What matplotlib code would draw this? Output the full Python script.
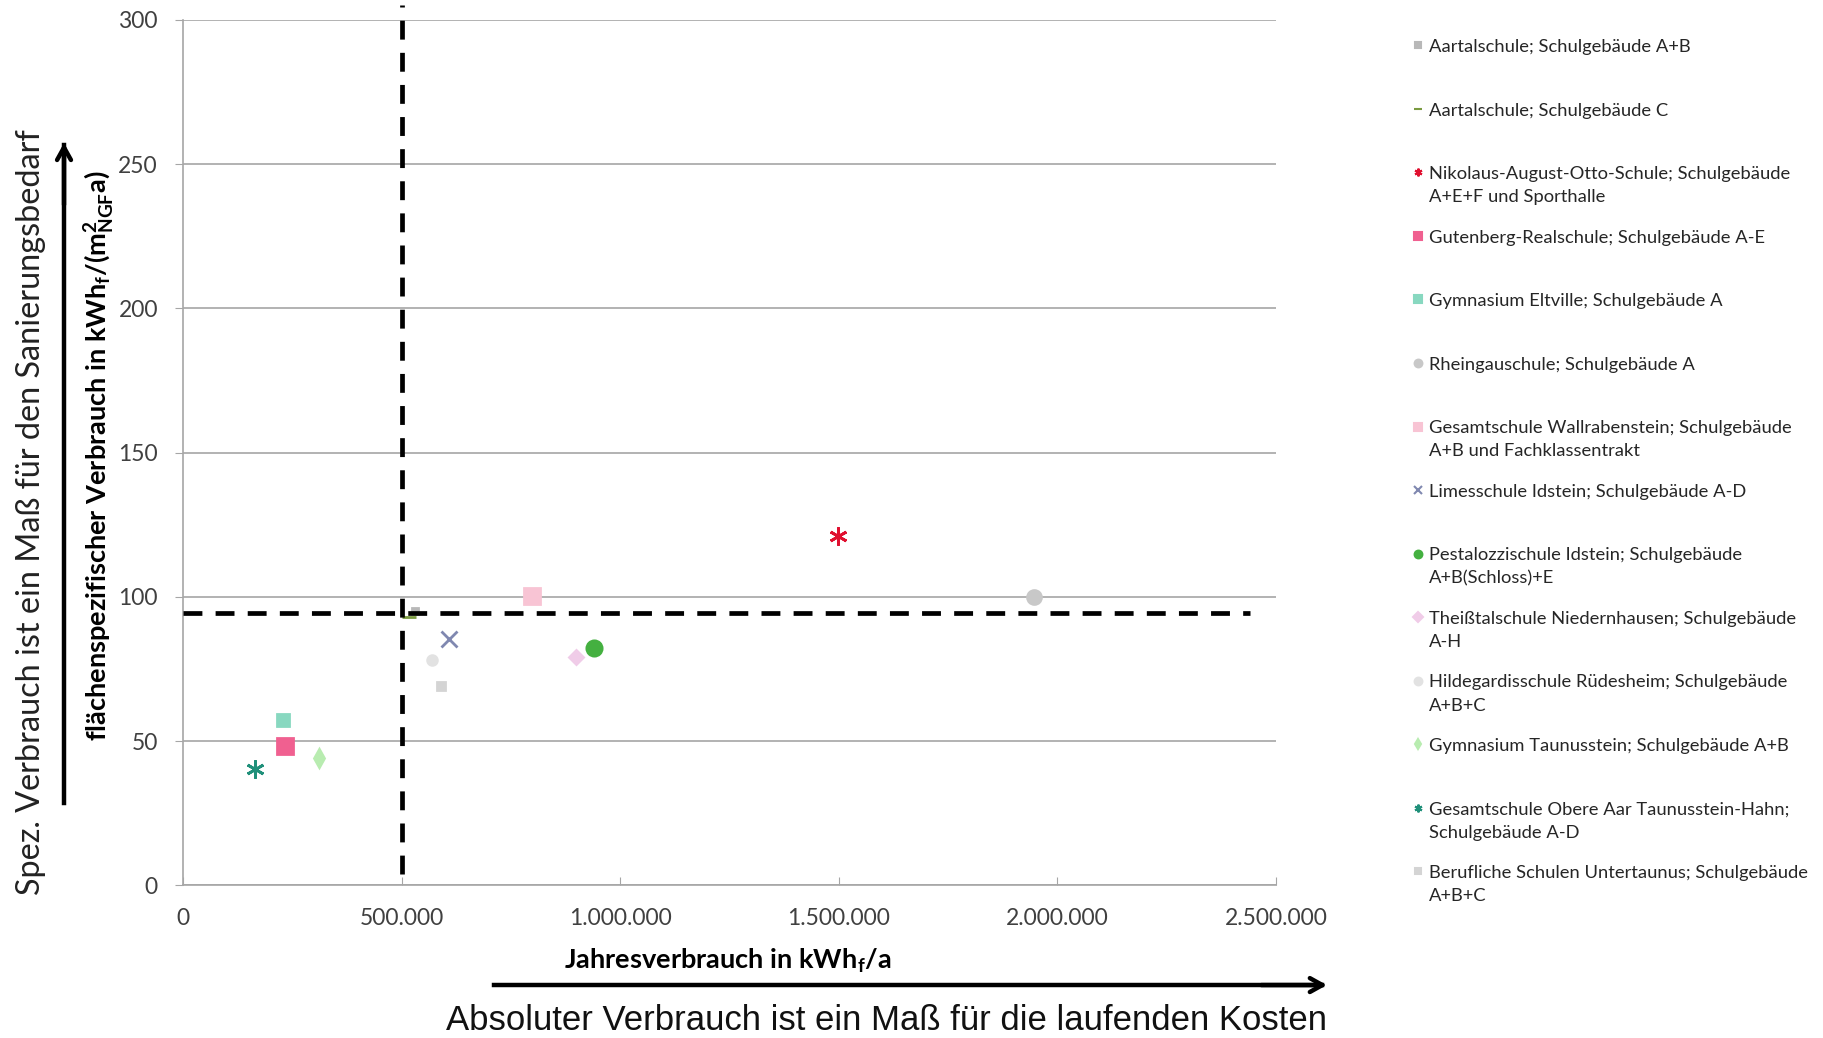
import matplotlib.pyplot as plt
from matplotlib.lines import Line2D
from matplotlib.ticker import FuncFormatter

plt.rcParams['font.family'] = ['Lato', 'DejaVu Sans']
plt.rcParams['mathtext.fontset'] = 'custom'
plt.rcParams['mathtext.rm'] = 'Lato'
plt.rcParams['mathtext.bf'] = 'Lato:bold'
plt.rcParams['mathtext.it'] = 'Lato:italic'

# Schulen und Verbrauchswerte
schulen = [
    'Aartalschule; Schulgebäude A+B',
    'Aartalschule; Schulgebäude C',
    'Nikolaus-August-Otto-Schule; Schulgebäude\nA+E+F und Sporthalle',
    'Gutenberg-Realschule; Schulgebäude A-E',
    'Gymnasium Eltville; Schulgebäude A',
    'Rheingauschule; Schulgebäude A',
    'Gesamtschule Wallrabenstein; Schulgebäude\nA+B und Fachklassentrakt',
    'Limesschule Idstein; Schulgebäude A-D',
    'Pestalozzischule Idstein; Schulgebäude\nA+B(Schloss)+E',
    'Theißtalschule Niedernhausen; Schulgebäude\nA-H',
    'Hildegardisschule Rüdesheim; Schulgebäude\nA+B+C',
    'Gymnasium Taunusstein; Schulgebäude A+B',
    'Gesamtschule Obere Aar Taunusstein-Hahn;\nSchulgebäude A-D',
    'Berufliche Schulen Untertaunus; Schulgebäude\nA+B+C',
]
jahresverbrauch = [530000, 516000, 1497000, 233000, 228000, 1947000, 799000,
                   608000, 939000, 900000, 569000, 312000, 164000, 590000]
spez_verbrauch = [95, 93, 121, 48.4, 57.3, 100, 100.4,
                  85.5, 82.3, 79, 78, 44, 40.3, 69]

# Grenzwerte (gestrichelte Linien)
grenze_x = 500000
grenze_y = 94.4

x_ticks = [0, 500000, 1000000, 1500000, 2000000, 2500000]
y_ticks = [0, 50, 100, 150, 200, 250, 300]

farben = ['#b8b8b8', '#7a9a40', '#e01030', '#f06090', '#88d8c0', '#c8c8c8',
          '#f8c4d4', '#8088b0', '#44b040', '#f0cce8', '#e2e2e2', '#b8ecb0',
          '#20907a', '#d4d4d4']
marker = ['s', '_', (6, 2, 0), 's', 's', 'o', 's', 'x', 'o', 'D', 'o', 'd',
          (6, 2, 0), 's']
groessen = [5, 10, 13, 11, 8, 10, 11, 11, 11, 7, 7, 9, 13, 6]

fig = plt.figure(figsize=(18.24, 10.38), dpi=100)
ax = fig.add_axes([0.1003, 0.147, 0.5993, 0.834])

ax.set_xlim(0, 2500000)
ax.set_ylim(0, 300)
ax.set_xticks(x_ticks)
ax.set_yticks(y_ticks)
ax.xaxis.set_major_formatter(FuncFormatter(lambda v, p: f'{int(v):,}'.replace(',', '.')))
ax.grid(axis='y', color='#a6a6a6', lw=1.2)
ax.set_axisbelow(True)
for s in ['top', 'right']:
    ax.spines[s].set_visible(False)
for s in ['left', 'bottom']:
    ax.spines[s].set_color('#a6a6a6')
    ax.spines[s].set_linewidth(1.2)
ax.tick_params(axis='x', direction='in', length=6, color='#a6a6a6', pad=16,
               labelsize=16.5, labelcolor='#404040')
ax.tick_params(axis='y', direction='out', length=6, color='#a6a6a6', pad=12,
               labelsize=16.5, labelcolor='#404040')

# Messpunkte
for i in range(len(schulen)):
    ax.plot(jahresverbrauch[i], spez_verbrauch[i], ls='none', marker=marker[i],
            color=farben[i], ms=groessen[i], mew=2, zorder=3)

# Grenzlinien
ax.plot([grenze_x, grenze_x], [4, 305], color='black', lw=3.4,
        ls=(0, (4, 2.8)), clip_on=False, zorder=4)
ax.plot([0, 2440000], [grenze_y, grenze_y], color='black', lw=3.4,
        ls=(0, (4, 2.8)), zorder=4)

# Achsentitel
fig.text(0.399, 0.074, r'Jahresverbrauch in kWh$_\mathbf{f}$/a', fontsize=19.5,
         fontweight='bold', ha='center', va='center')
fig.text(0.0543, 0.561,
         r'flächenspezifischer Verbrauch in kWh$_\mathbf{f}$/(m$^\mathbf{2}_\mathbf{NGF}$a)',
         fontsize=19.5, fontweight='bold', rotation=90, ha='center', va='center')

# Pfeile mit Erläuterung
fig.text(0.017, 0.507, 'Spez. Verbrauch ist ein Maß für den Sanierungsbedarf',
         fontsize=23.3, rotation=90, ha='center', va='center', color='#222222')
fig.add_artist(plt.Line2D([0.0351, 0.0351], [0.2264, 0.86], color='black', lw=3.2))
ax.annotate('', xy=(0.0351, 0.865), xytext=(0.0351, 0.80), xycoords='figure fraction',
            arrowprops=dict(arrowstyle='->,head_length=0.9,head_width=0.5',
                            color='black', lw=3.2))
fig.text(0.486, 0.017, 'Absoluter Verbrauch ist ein Maß für die laufenden Kosten',
         fontsize=25, family='Liberation Sans', ha='center', va='center',
         color='#111111')
fig.add_artist(plt.Line2D([0.271, 0.725], [0.051, 0.051], color='black', lw=3.2))
ax.annotate('', xy=(0.729, 0.051), xytext=(0.69, 0.051), xycoords='figure fraction',
            arrowprops=dict(arrowstyle='->,head_length=0.9,head_width=0.5',
                            color='black', lw=3.2))

# Legende
y0 = 0.9563
schritt = 0.0612
for i, name in enumerate(schulen):
    y = y0 - i * schritt
    fig.add_artist(Line2D([0.7774], [y], ls='none', marker=marker[i], color=farben[i],
                          ms=min(groessen[i], 7) * 0.8, mew=1.5))
    fig.text(0.7834, y + 0.006, name, fontsize=13.2, va='top', ha='left',
             color='#262626', linespacing=1.55)

fig.savefig('out.png', dpi=100, facecolor='white')
